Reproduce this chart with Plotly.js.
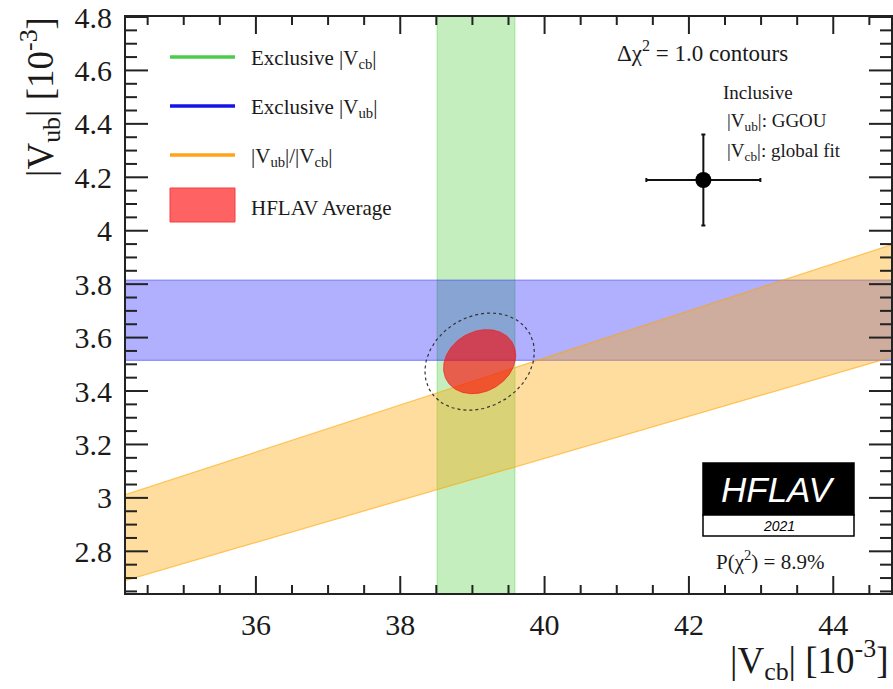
<!DOCTYPE html>
<html><head><meta charset="utf-8">
<script src="https://cdn.plot.ly/plotly-3.0.1.min.js"></script>
<style>html,body{margin:0;padding:0;background:#fff}#chart{width:893px;height:689px}</style>
</head><body><div id="chart"></div>
<script>
// ---- data ----
const xRange = [34.2, 44.8];
const yRange = [2.644, 4.8];
const xTickVals = [36, 38, 40, 42, 44];
const xTickText = ['36', '38', '40', '42', '44'];
const yTickVals = [2.8, 3.0, 3.2, 3.4, 3.6, 3.8, 4.0, 4.2, 4.4, 4.6, 4.8];
const yTickText = ['2.8', '3', '3.2', '3.4', '3.6', '3.8', '4', '4.2', '4.4', '4.6', '4.8'];
const xMinorStep = [0.5];
const yMinorStep = [0.05];
const exclVcbBand = [38.51, 39.59];        // Exclusive |Vcb| (1 sigma)
const exclVubBand = [3.515, 3.815];        // Exclusive |Vub| (1 sigma)
const ratioBand = [0.0787, 0.0881];        // |Vub|/|Vcb| (1 sigma)
const avgCenter = [39.10, 3.51];           // HFLAV average
const avgSigma = [0.50, 0.12];
const avgCorr = [0.2];
const contourLevels = [1.0, 2.3];          // delta chi2 : filled, dotted
const inclVcb = [42.2], inclVcbErr = [0.79];
const inclVub = [4.19], inclVubErr = [0.17];

// ---- helpers ----
function ellipse(level) {
  const k = Math.sqrt(level), xs = [], ys = [];
  const r = avgCorr[0], s = Math.sqrt(1 - r * r);
  for (let i = 0; i <= 180; i++) {
    const t = 2 * Math.PI * i / 180;
    xs.push(avgCenter[0] + k * avgSigma[0] * Math.cos(t));
    ys.push(avgCenter[1] + k * avgSigma[1] * (r * Math.cos(t) + s * Math.sin(t)));
  }
  return {x: xs, y: ys};
}
const yPad = [yRange[0] - 1, yRange[1] + 1];
const xPad = [xRange[0] - 1, xRange[1] + 1];

const traces = [
  { // green band
    x: [exclVcbBand[0], exclVcbBand[1], exclVcbBand[1], exclVcbBand[0], exclVcbBand[0]],
    y: [yPad[0], yPad[0], yPad[1], yPad[1], yPad[0]],
    mode: 'lines', fill: 'toself', fillcolor: 'rgba(60,200,40,0.30)',
    line: {color: 'rgba(60,200,40,0.35)', width: 1}, hoverinfo: 'skip'
  },
  { // blue band
    x: [xPad[0], xPad[1], xPad[1], xPad[0], xPad[0]],
    y: [exclVubBand[0], exclVubBand[0], exclVubBand[1], exclVubBand[1], exclVubBand[0]],
    mode: 'lines', fill: 'toself', fillcolor: 'rgba(0,0,255,0.31)',
    line: {color: 'rgba(40,40,255,0.45)', width: 1.2}, hoverinfo: 'skip'
  },
  { // orange band
    x: [xPad[0], xPad[1], xPad[1], xPad[0], xPad[0]],
    y: [ratioBand[0] * xPad[0], ratioBand[0] * xPad[1], ratioBand[1] * xPad[1], ratioBand[1] * xPad[0], ratioBand[0] * xPad[0]],
    mode: 'lines', fill: 'toself', fillcolor: 'rgba(255,165,0,0.38)',
    line: {color: 'rgba(255,165,0,0.6)', width: 1.2}, hoverinfo: 'skip'
  }
];
const e1 = ellipse(contourLevels[0]);
traces.push({x: e1.x, y: e1.y, mode: 'lines', fill: 'toself', fillcolor: 'rgba(255,0,0,0.6)',
  line: {color: 'rgba(240,30,30,0.7)', width: 1}, hoverinfo: 'skip'});
const e2 = ellipse(contourLevels[1]);
traces.push({x: e2.x, y: e2.y, mode: 'lines', line: {color: '#333', width: 1.2, dash: 'dot'}, hoverinfo: 'skip'});
traces.push({
  x: inclVcb, y: inclVub, mode: 'markers',
  marker: {color: '#000', size: 16},
  error_x: {type: 'data', array: inclVcbErr, color: '#111', thickness: 2, width: 2},
  error_y: {type: 'data', array: inclVubErr, color: '#111', thickness: 2, width: 2}
});

// ---- layout (pixel helpers for decorations) ----
const L = 126, R = 891, T = 17, B = 593;
const px = v => (v - L) / (R - L);
const py = v => (B - v) / (B - T);
const serif = 'Liberation Serif, Times New Roman, serif';
const txt = '#1a1a1a';
const tickLine = {color: '#222', width: 2};

const shapes = [
  {type: 'line', xref: 'paper', yref: 'paper', x0: px(170), x1: px(235), y0: py(57), y1: py(57), line: {color: '#4ccc4c', width: 3.5}},
  {type: 'line', xref: 'paper', yref: 'paper', x0: px(170), x1: px(235), y0: py(106), y1: py(106), line: {color: '#1414e6', width: 3.5}},
  {type: 'line', xref: 'paper', yref: 'paper', x0: px(170), x1: px(235), y0: py(155), y1: py(155), line: {color: '#ffa31a', width: 3.5}},
  {type: 'rect', xref: 'paper', yref: 'paper', x0: px(170), x1: px(235), y0: py(188), y1: py(222), fillcolor: '#ff6262', line: {color: '#f04040', width: 1}},
  {type: 'rect', xref: 'paper', yref: 'paper', x0: px(703), x1: px(854), y0: py(463), y1: py(515), fillcolor: '#000', line: {color: '#000', width: 1.5}},
  {type: 'rect', xref: 'paper', yref: 'paper', x0: px(703), x1: px(854), y0: py(515), y1: py(536), fillcolor: '#fff', line: {color: '#000', width: 1.5}}
];

// inside ticks on all four sides, placed through the axis scales
function xTick(v, len) {
  shapes.push({type: 'line', xref: 'x', yref: 'paper', ysizemode: 'pixel', yanchor: 0, x0: v, x1: v, y0: 0, y1: len, line: tickLine});
  shapes.push({type: 'line', xref: 'x', yref: 'paper', ysizemode: 'pixel', yanchor: 1, x0: v, x1: v, y0: 0, y1: -len, line: tickLine});
}
function yTick(v, len) {
  shapes.push({type: 'line', xref: 'paper', yref: 'y', xsizemode: 'pixel', xanchor: 0, y0: v, y1: v, x0: 0, x1: len, line: tickLine});
  shapes.push({type: 'line', xref: 'paper', yref: 'y', xsizemode: 'pixel', xanchor: 1, y0: v, y1: v, x0: 0, x1: -len, line: tickLine});
}
function isMajor(v, majors) { return majors.some(m => Math.abs(m - v) < 1e-6); }
for (let k = Math.ceil(xRange[0] / xMinorStep[0]); k * xMinorStep[0] <= xRange[1] + 1e-9; k++) {
  const v = Math.round(k * xMinorStep[0] * 1000) / 1000;
  xTick(v, isMajor(v, xTickVals) ? 17 : 8);
}
for (let k = Math.ceil(yRange[0] / yMinorStep[0] - 1e-9); k * yMinorStep[0] <= yRange[1] + 1e-9; k++) {
  const v = Math.round(k * yMinorStep[0] * 1000) / 1000;
  yTick(v, isMajor(v, yTickVals) ? 22 : 11);
}

function ann(text, x, y, size, extra) {
  return Object.assign({text: text, xref: 'paper', yref: 'paper', x: px(x), y: py(y), showarrow: false,
    xanchor: 'left', yanchor: 'middle', font: {family: serif, size: size, color: txt}}, extra || {});
}
const annotations = [
  ann('Exclusive |V<sub>cb</sub>|', 249, 59, 21),
  ann('Exclusive |V<sub>ub</sub>|', 249, 108, 21),
  ann('|V<sub>ub</sub>|/|V<sub>cb</sub>|', 249, 157, 21),
  ann('HFLAV Average', 249, 208, 21),
  ann('Δχ<sup>2</sup> = 1.0 contours', 615, 52, 23),
  ann('Inclusive', 721, 92, 19),
  ann('|V<sub>ub</sub>|: GGOU', 725, 122, 19),
  ann('|V<sub>cb</sub>|: global fit', 725, 152, 19),
  ann('HFLAV', 778.5, 489, 35, {xanchor: 'center', font: {family: 'Liberation Sans, Arial, sans-serif', size: 35, color: '#fff', style: 'italic'}}),
  ann('2021', 778.5, 526, 14, {xanchor: 'center', font: {family: 'Liberation Sans, Arial, sans-serif', size: 14, color: '#000', style: 'italic'}}),
  ann('P(χ<sup>2</sup>) = 8.9%', 770, 560, 21, {xanchor: 'center'}),
  ann('|V<sub>cb</sub>| [10<sup>-3</sup>]', 890, 660, 37, {xanchor: 'right'}),
  ann('|V<sub>ub</sub>| [10<sup>-3</sup>]', 40, 15, 37, {xanchor: 'center', yanchor: 'top', textangle: -90})
];

const axisCommon = {
  showgrid: false, zeroline: false, showline: true, linecolor: '#222', linewidth: 2,
  mirror: true, ticks: '', tickfont: {family: serif, size: 30, color: txt}
};
const layout = {
  width: 893, height: 689,
  margin: {l: L, r: 893 - R, t: T, b: 689 - B, pad: 0},
  paper_bgcolor: '#fff', plot_bgcolor: '#fff', showlegend: false,
  xaxis: Object.assign({}, axisCommon, {range: xRange, tickmode: 'array', tickvals: xTickVals, ticktext: xTickText,
    ticklabelstandoff: 4}),
  yaxis: Object.assign({}, axisCommon, {range: yRange, tickmode: 'array', tickvals: yTickVals, ticktext: yTickText,
    ticklabelstandoff: 6}),
  shapes: shapes, annotations: annotations
};
Plotly.newPlot('chart', traces, layout, {displayModeBar: false, staticPlot: true});
</script></body></html>
